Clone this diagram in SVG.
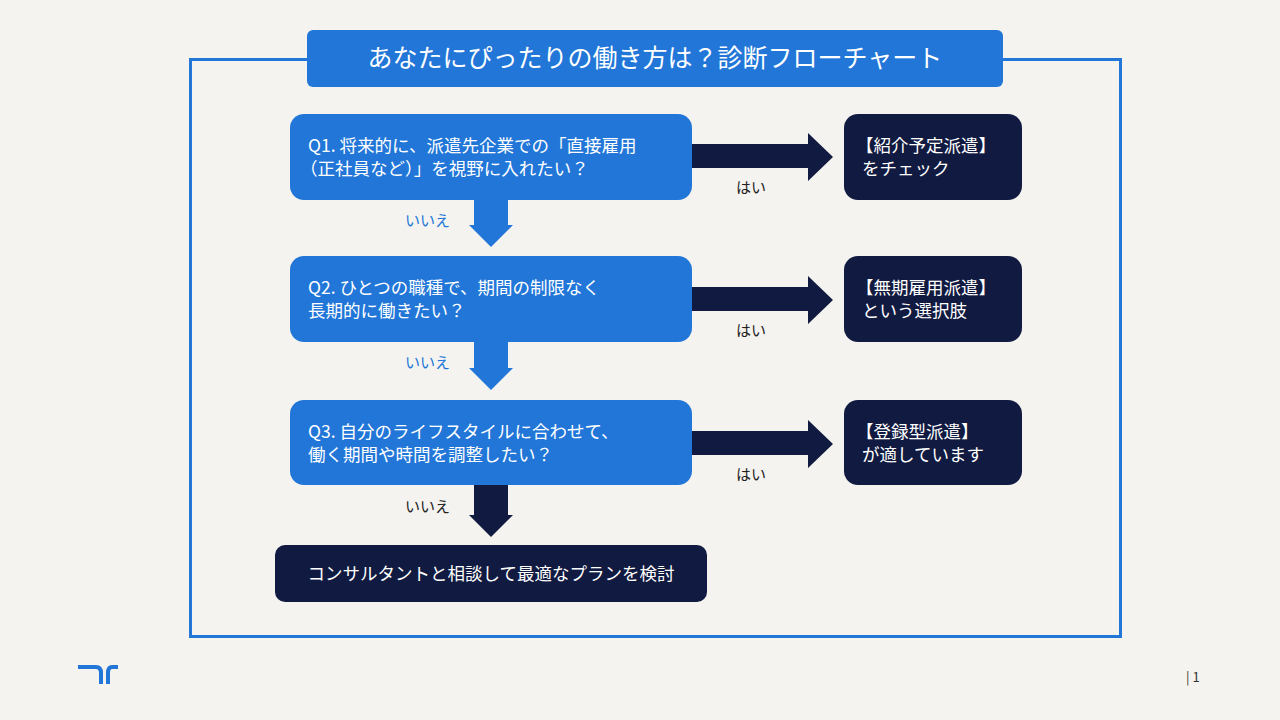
<svg xmlns="http://www.w3.org/2000/svg" width="1280" height="720" viewBox="0 0 1280 720">
<style>
text{font-family:"Noto Sans CJK JP","Noto Sans",sans-serif}
.q{fill:#2176d8}
.r{fill:#111a40}
.w{fill:#fff;font-size:17.5px}
.arr{fill:#111a40}
.yes{font-size:15px;fill:#222}
.no{font-size:15px;fill:#2176d8}
</style>
<rect width="1280" height="720" fill="#f5f3ef"/>
<rect x="190.5" y="59.5" width="930" height="577" fill="none" stroke="#2176d8" stroke-width="3"/>
<g id="title"><rect x="307" y="30" width="696" height="57" rx="6" fill="#2176d8"/><text x="655" y="67" text-anchor="middle" fill="#fff" font-size="25">あなたにぴったりの働き方は？診断フローチャート</text></g>
<g id="connectors">
<polygon class="arr" points="692,144 808,144 808,133 833,157 808,181 808,168 692,168"/>
<polygon class="arr" points="692,287 808,287 808,276 833,300 808,324 808,311 692,311"/>
<polygon class="arr" points="692,431 808,431 808,420 833,444 808,468 808,455 692,455"/>
<polygon class="q" points="474,199 508,199 508,225 513,225 491,247 469,225 474,225"/>
<polygon class="q" points="474,342 508,342 508,368 513,368 491,390 469,368 474,368"/>
<polygon class="arr" points="474,485 508,485 508,515 513,515 491,537 469,515 474,515"/>
<text class="yes" x="736" y="193">はい</text>
<text class="yes" x="736" y="336">はい</text>
<text class="yes" x="736" y="480">はい</text>
<text class="no" x="405" y="226">いいえ</text>
<text class="no" x="405" y="368">いいえ</text>
<text class="yes" x="405" y="512">いいえ</text>
</g>
<g id="q1"><rect class="q" x="290" y="114" width="402" height="86" rx="14"/><text class="w" x="308" y="152">Q1. 将来的に、派遣先企業での「直接雇用</text><text class="w" x="300" y="175">（正社員など）」を視野に入れたい？</text></g>
<g id="q2"><rect class="q" x="290" y="256" width="402" height="86" rx="14"/><text class="w" x="308" y="294">Q2. ひとつの職種で、期間の制限なく</text><text class="w" x="308" y="317">長期的に働きたい？</text></g>
<g id="q3"><rect class="q" x="290" y="400" width="402" height="85" rx="14"/><text class="w" x="308" y="438">Q3. 自分のライフスタイルに合わせて、</text><text class="w" x="308" y="461">働く期間や時間を調整したい？</text></g>
<g id="r1"><rect class="r" x="844" y="114" width="178" height="86" rx="14"/><text class="w" x="856" y="152">【紹介予定派遣】</text><text class="w" x="862" y="175">をチェック</text></g>
<g id="r2"><rect class="r" x="844" y="256" width="178" height="86" rx="14"/><text class="w" x="856" y="294">【無期雇用派遣】</text><text class="w" x="862" y="317">という選択肢</text></g>
<g id="r3"><rect class="r" x="844" y="400" width="178" height="85" rx="14"/><text class="w" x="856" y="438">【登録型派遣】</text><text class="w" x="862" y="461">が適しています</text></g>
<g id="end"><rect class="r" x="275" y="545" width="432" height="57" rx="10"/><text class="w" x="491" y="580" text-anchor="middle">コンサルタントと相談して最適なプランを検討</text></g>
<g id="logo" fill="none" stroke="#2176d8" stroke-width="4"><path d="M78,667 H96 Q101,667 101,673 V684"/><path d="M118,667 H112 Q108,667 108,673 V684"/></g>
<text x="1186" y="682" font-size="13" fill="#333">| 1</text>
</svg>
